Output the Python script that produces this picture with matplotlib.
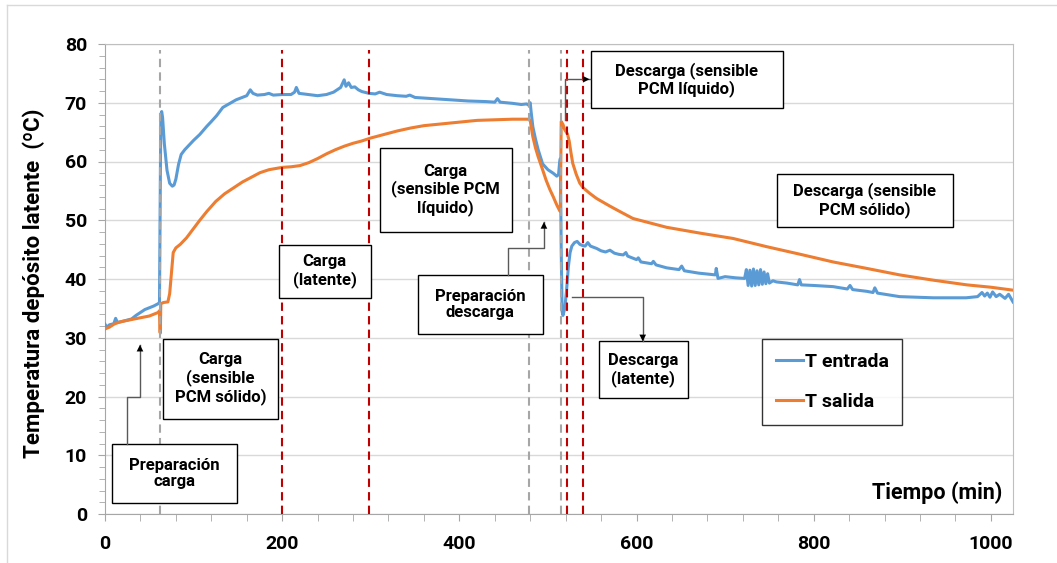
import matplotlib
matplotlib.use("Agg")
import matplotlib.pyplot as plt
from matplotlib.lines import Line2D
from matplotlib.patches import Rectangle

plt.rcParams["font.family"] = ["Roboto", "DejaVu Sans"]
plt.rcParams["font.weight"] = "bold"

# T entrada (blue): (minute, degC)
t_in_points = [
    (0, 32.3), (2, 31.8), (5, 32.2), (10, 32.4), (12, 33.3), (14, 32.6), (20, 32.8),
    (25, 33.0), (30, 33.2), (35, 33.8), (40, 34.3), (45, 34.8), (50, 35.1), (55, 35.4),
    (60, 35.8), (61.5, 36.0), (63, 68.0), (64, 68.5), (65, 67.5), (67, 63.0), (70, 58.5),
    (73, 56.3), (76, 55.8), (78, 56.0), (80, 57.0), (83, 59.5), (86, 61.2), (90, 62.0),
    (95, 62.8), (100, 63.6), (107, 64.6), (115, 66.0), (120, 66.8), (126, 67.8),
    (133, 69.2), (140, 69.8), (148, 70.5), (155, 70.9), (160, 71.2), (164, 72.2),
    (167, 71.6), (172, 71.3), (180, 71.4), (185, 71.6), (190, 71.3), (200, 71.4),
    (210, 71.4), (214, 71.8), (216, 72.6), (219, 71.6), (230, 71.4), (240, 71.2),
    (250, 71.4), (258, 71.8), (262, 72.2), (266, 72.6), (270, 73.9), (272, 72.8),
    (275, 73.4), (278, 72.6), (282, 72.7), (286, 72.2), (290, 71.9), (298, 71.6),
    (305, 71.5), (310, 71.8), (318, 71.4), (330, 71.2), (340, 71.1), (344, 71.3),
    (350, 70.9), (370, 70.7), (390, 70.5), (410, 70.3), (430, 70.2), (440, 70.1),
    (443, 70.7), (446, 70.1), (460, 69.9), (470, 69.7), (476, 69.8), (478, 69.6),
    (480, 70.0), (481, 68.5), (483, 65.9), (486, 63.8), (489, 62.0), (494, 59.6),
    (500, 58.6), (506, 58.0), (510, 57.5), (512, 57.8), (513, 59.5), (514, 60.5),
    (515, 45.0), (516, 34.5), (517, 33.8), (519, 35.0), (521, 38.0), (523, 42.0),
    (525, 44.5), (527, 45.6), (530, 46.2), (533, 46.4), (536, 45.9), (539, 45.7),
    (542, 45.6), (545, 46.2), (548, 45.6), (555, 45.2), (560, 44.8), (565, 44.6),
    (570, 44.9), (575, 44.4), (580, 44.2), (585, 44.1), (588, 44.5), (590, 43.9),
    (600, 43.3), (602, 43.6), (605, 42.9), (617, 42.6), (619, 43.0), (622, 42.4),
    (634, 41.9), (648, 41.6), (651, 42.2), (654, 41.4), (670, 41.0), (689, 40.7),
    (690, 41.8), (692, 40.1), (700, 40.4), (712, 40.2), (722, 40.1), (724, 41.6),
    (726, 38.9), (728, 41.5), (730, 38.8), (732, 41.7), (734, 38.9), (736, 41.4),
    (738, 39.0), (740, 41.6), (742, 39.1), (744, 41.2), (746, 39.2), (748, 40.9),
    (750, 39.3), (754, 39.7), (758, 39.5), (770, 39.3), (782, 39.0), (784, 39.9),
    (786, 39.0), (800, 38.9), (822, 38.7), (838, 38.3), (841, 38.9), (844, 38.2),
    (860, 37.9), (867, 37.7), (869, 38.5), (872, 37.6), (897, 37.0), (935, 36.8),
    (972, 36.8), (985, 37.0), (990, 37.7), (993, 37.1), (996, 37.6), (999, 36.9),
    (1002, 37.8), (1006, 37.0), (1010, 37.4), (1016, 36.7), (1020, 37.4), (1025, 36.1),
]

# T salida (orange): (minute, degC)
t_out_points = [
    (0, 31.5), (5, 31.8), (10, 32.3), (15, 32.6), (20, 32.8), (30, 33.1), (40, 33.4),
    (50, 33.7), (55, 34.0), (60, 34.3), (61.5, 34.6), (62, 31.0), (62.5, 30.8),
    (63, 35.8), (66, 36.0), (71, 36.1), (73, 37.5), (75, 41.0), (77, 44.5), (80, 45.3),
    (85, 45.9), (92, 47.0), (100, 48.6), (107, 50.0), (115, 51.5), (125, 53.2),
    (135, 54.5), (145, 55.5), (155, 56.5), (165, 57.3), (175, 58.1), (185, 58.6),
    (200, 59.0), (210, 59.1), (220, 59.3), (230, 59.8), (240, 60.5), (250, 61.3),
    (260, 62.0), (270, 62.6), (280, 63.1), (290, 63.5), (300, 64.0), (315, 64.6),
    (330, 65.2), (345, 65.7), (360, 66.1), (380, 66.4), (400, 66.7), (420, 67.0),
    (440, 67.1), (460, 67.2), (478, 67.2), (480, 67.0), (481, 66.0), (483, 64.2),
    (486, 62.3), (489, 60.8), (494, 58.6), (498, 56.8), (502, 55.3), (506, 54.0),
    (510, 52.6), (513, 51.7), (514, 51.5), (515, 66.8), (517, 66.3), (519, 65.4),
    (522, 64.7), (524, 63.5), (526, 61.5), (528, 59.7), (532, 57.8), (536, 56.3),
    (540, 55.5), (547, 54.6), (555, 53.7), (570, 52.4), (581, 51.5), (596, 50.3),
    (634, 48.8), (672, 47.8), (709, 46.9), (747, 45.5), (785, 44.2), (822, 42.9),
    (860, 41.8), (897, 40.7), (935, 39.8), (973, 39.0), (1000, 38.6), (1025, 38.1),
]

grey_marks = [62, 479, 515]
red_marks = [200, 298, 521, 539.5]

BLUE = "#5B9BD5"
ORANGE = "#ED7D31"

t_in_min = [p[0] for p in t_in_points]
t_in = [p[1] for p in t_in_points]
t_out_min = [p[0] for p in t_out_points]
t_out = [p[1] for p in t_out_points]

fig = plt.figure(figsize=(10.57, 5.63), dpi=100)
ax = fig.add_axes([105 / 1057, 49 / 563, 908 / 1057, 470 / 563])

# outer chart-area border (top and left only visible)
fig.add_artist(Line2D([7 / 1057, 1.0], [1 - 5 / 563] * 2, color="#D9D9D9", lw=1))
fig.add_artist(Line2D([7 / 1057] * 2, [0, 1 - 5 / 563], color="#D9D9D9", lw=1))

ax.set_xlim(0, 1025)
ax.set_ylim(0, 80)
ax.set_xticks(range(0, 1001, 200))
ax.set_xticks(range(0, 1025, 40), minor=True)
ax.set_yticks(range(0, 81, 10))
ax.set_yticks(range(0, 81, 2), minor=True)
ax.grid(True, axis="y", which="major", color="#D9D9D9", lw=1, zorder=0)
ax.set_axisbelow(True)
for spine in ax.spines.values():
    spine.set_color("#BFBFBF")
ax.spines["left"].set_color("#A6A6A6")
ax.spines["bottom"].set_color("#A6A6A6")
ax.tick_params(axis="both", which="both", direction="out", color="#A6A6A6",
               labelsize=14)
ax.tick_params(axis="x", which="major", length=5, pad=10)
ax.tick_params(axis="x", which="minor", length=5)
ax.tick_params(axis="y", which="major", length=5, pad=8)
ax.tick_params(axis="y", which="minor", length=4)
for lab in ax.get_xticklabels() + ax.get_yticklabels():
    lab.set_fontweight("bold")

for x in grey_marks:
    ax.plot([x, x], [0, 79], color="#A6A6A6", lw=1.5, ls=(0, (4, 2.5)), zorder=4)
for x in red_marks:
    ax.plot([x, x], [0, 79], color="#C00000", lw=1.5, ls=(0, (4, 2.5)), zorder=4)

ax.plot(t_in_min, t_in, color=BLUE, lw=2.2, label="T entrada", zorder=3)
ax.plot(t_out_min, t_out, color=ORANGE, lw=2.2, label="T salida", zorder=3)

ax.set_ylabel("Temperatura depósito latente  (ºC)", fontsize=16, fontweight="bold")
ax.yaxis.set_label_coords(-0.066, 0.49)
ax.text(0.988, 0.045, "Tiempo (min)", transform=ax.transAxes, ha="right",
        va="center", fontsize=15.5, fontweight="bold")

boxes = [
    ((7.9, 1.9), (149, 11.9), "Preparación\ncarga"),
    ((65.5, 16.2), (195, 29.8), "Carga\n(sensible\nPCM sólido)"),
    ((196, 36.8), (300, 45.8), "Carga\n(latente)"),
    ((310, 48.0), (459, 62.3), "Carga\n(sensible PCM\nlíquido)"),
    ((353, 30.6), (494, 40.7), "Preparación\ndescarga"),
    ((548.5, 69.1), (765, 78.8), "Descarga (sensible\nPCM líquido)"),
    ((557.6, 19.7), (658, 29.4), "Descarga\n(latente)"),
    ((758.5, 48.9), (957, 57.9), "Descarga (sensible\nPCM sólido)"),
]
for (x0, y0), (x1, y1), label in boxes:
    ax.add_patch(Rectangle((x0, y0), x1 - x0, y1 - y0, facecolor="white",
                           edgecolor="black", lw=1, zorder=5))
    ax.text((x0 + x1) / 2, (y0 + y1) / 2, label, ha="center", va="center",
            fontsize=12, fontweight="bold", linespacing=1.15, zorder=6)

connectors = [
    ([24.8, 24.8, 39.5, 39.5], [11.9, 19.9, 19.9, 28.8]),
    ([454.4, 454.4, 495.5, 495.5], [40.7, 45.3, 45.3, 49.7]),
    ([519, 519, 547], [67.1, 74.0, 74.0]),
    ([527, 607, 607], [36.9, 36.9, 29.4]),
]
for xs, ys in connectors:
    ax.plot(xs, ys, color="#595959", lw=1, zorder=5)
    ax.annotate("", xy=(xs[-1], ys[-1]), xytext=(xs[-2], ys[-2]),
                arrowprops=dict(arrowstyle="-|>", color="black", lw=0,
                                mutation_scale=12, shrinkA=0, shrinkB=0),
                zorder=6)

leg = ax.legend(loc="upper left", bbox_to_anchor=(0.7236, 0.372), fontsize=14,
                frameon=True, fancybox=False, edgecolor="black",
                handlelength=1.4, handletextpad=0.1, labelspacing=1.15,
                borderpad=0.7, borderaxespad=0)
leg.get_frame().set_linewidth(1)
leg.set_zorder(7)
for t in leg.get_texts():
    t.set_fontweight("bold")

fig.savefig("out.png", dpi=100)
